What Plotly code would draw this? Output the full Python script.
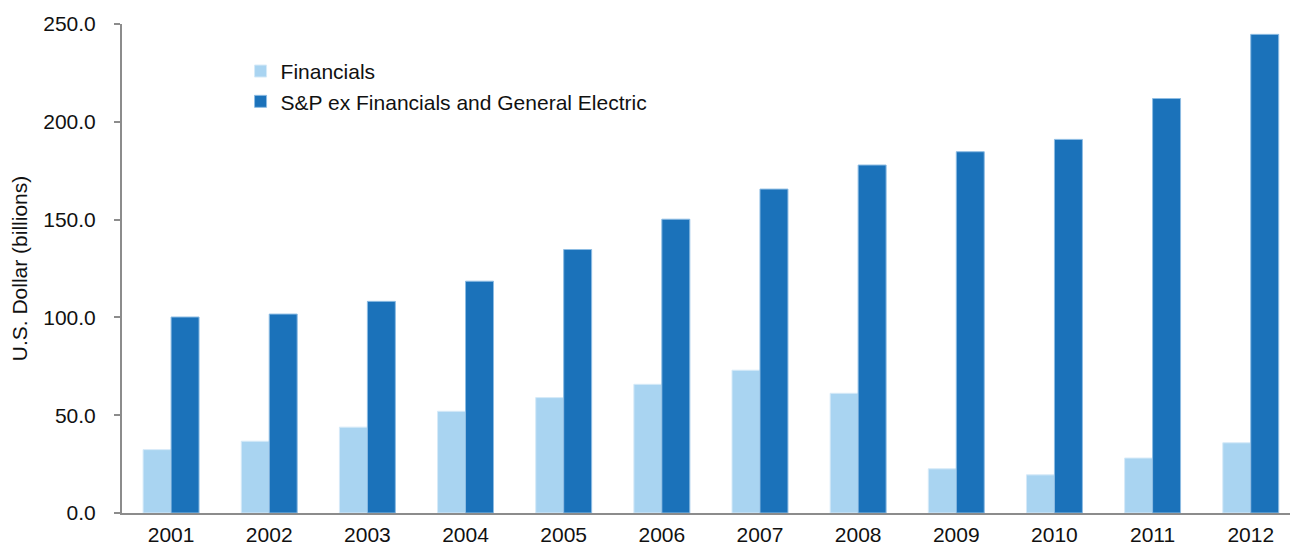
import plotly.graph_objects as go

years = ["2001", "2002", "2003", "2004", "2005", "2006",
         "2007", "2008", "2009", "2010", "2011", "2012"]
financials = [32.4, 36.7, 43.9, 52.0, 59.0, 65.8, 73.0, 61.2, 22.6, 19.5, 28.1, 35.9]
sp_ex_fin_ge = [100.2, 101.7, 108.2, 118.5, 134.7, 150.2, 165.6, 177.9, 184.7, 191.0, 211.9, 244.7]
y_ticks = [0, 50, 100, 150, 200, 250]

font_family = "Liberation Sans, Arial, sans-serif"

fig = go.Figure()
fig.add_trace(go.Bar(
    x=years, y=financials, name="Financials",
    marker=dict(color="#A9D4F1", line=dict(color="#D6EAF8", width=1)),
))
fig.add_trace(go.Bar(
    x=years, y=sp_ex_fin_ge, name="S&P ex Financials and General Electric",
    marker=dict(color="#1B72BA", line=dict(color="#8DBCE3", width=1)),
))

fig.update_layout(
    width=1291, height=546,
    margin=dict(l=122, r=1, t=24, b=33),
    paper_bgcolor="white", plot_bgcolor="white",
    barmode="group", bargap=0.43, bargroupgap=0,
    font=dict(family=font_family, size=21, color="#111111"),
    showlegend=True,
    legend=dict(
        x=0.1015, y=0.945, xanchor="left", yanchor="top",
        font=dict(size=21, color="#111111"),
        bgcolor="rgba(0,0,0,0)", itemwidth=30, tracegroupgap=0,
    ),
    xaxis=dict(
        range=[-0.5, 11.4], automargin=False,
        showline=True, linecolor="#8C8C8C", linewidth=2,
        ticks="", showgrid=False,
        tickfont=dict(size=21),
        ticklabelstandoff=2,
    ),
    yaxis=dict(
        range=[0, 250], tickvals=y_ticks, automargin=False,
        ticktext=[f"{v:.1f}" for v in y_ticks],
        showline=True, linecolor="#8C8C8C", linewidth=2,
        ticks="outside", ticklen=6, tickcolor="#8C8C8C", tickwidth=2,
        showgrid=False, zeroline=False,
        tickfont=dict(size=21),
        ticklabelstandoff=14,
        title=dict(text="U.S. Dollar (billions)", font=dict(size=21), standoff=10),
    ),
)

fig.write_html("out.html")
